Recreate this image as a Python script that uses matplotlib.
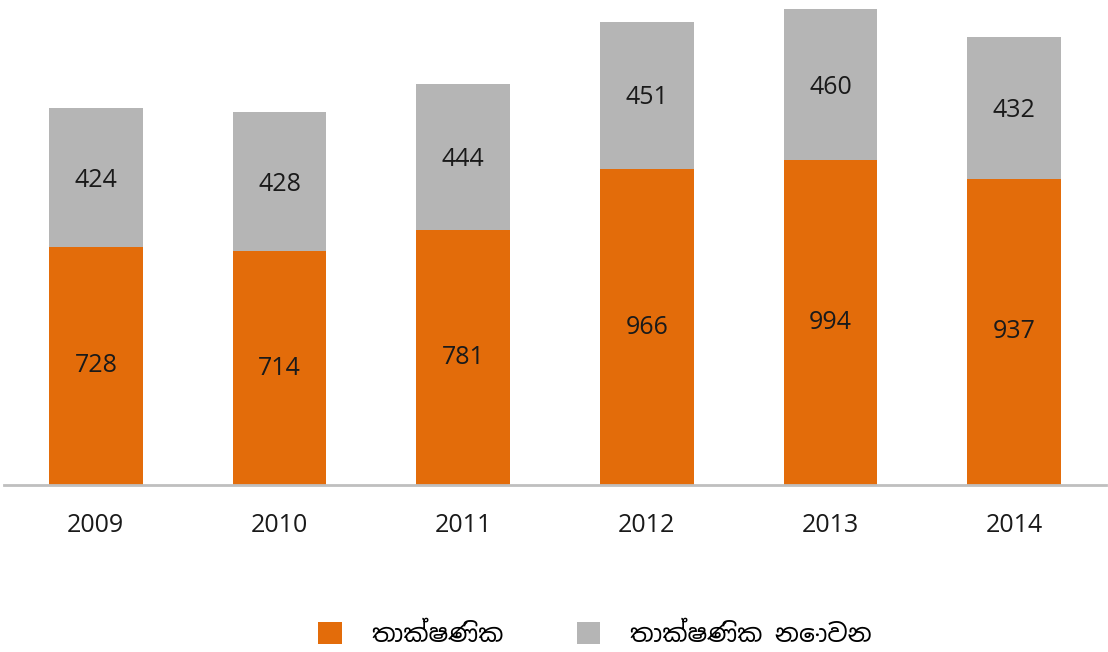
import matplotlib.pyplot as plt
import numpy as np

years = ["2009", "2010", "2011", "2012", "2013", "2014"]
technical = [728, 714, 781, 966, 994, 937]
non_technical = [424, 428, 444, 451, 460, 432]
labels = ["තාක්ෂණික", "තාක්ෂණික නොවන"]

orange = "#e36c0a"
gray = "#b5b5b5"

plt.rcParams['font.family'] = ['Noto Sans Sinhala', 'Open Sans', 'DejaVu Sans']
num_font = ['Open Sans', 'DejaVu Sans']

fig = plt.figure(figsize=(11.08, 6.52), dpi=100)
ax = fig.add_axes([4 / 1108, 1 - 485 / 652, 1102 / 1108, 485 / 652])

x = np.arange(len(years))
b1 = ax.bar(x, technical, width=0.51, color=orange, label=labels[0])
b2 = ax.bar(x, non_technical, width=0.51, bottom=technical, color=gray, label=labels[1])

# value labels in the middle of each segment
for i in range(len(years)):
    ax.text(x[i], technical[i] / 2, str(technical[i]), ha='center', va='center',
            fontsize=18, color='#1a1a1a', family=num_font)
    ax.text(x[i], technical[i] + non_technical[i] / 2 - 8, str(non_technical[i]),
            ha='center', va='center', fontsize=18, color='#1a1a1a', family=num_font)

ax.set_xlim(-0.5, 5.5)
ax.set_ylim(0, 1483)
ax.set_yticks([])
ax.set_xticks(x)
ax.set_xticklabels(years, fontsize=18, color='#1a1a1a', family=num_font)
ax.tick_params(axis='x', length=0, pad=20)
for s in ['top', 'right', 'left']:
    ax.spines[s].set_visible(False)
ax.spines['bottom'].set_color('#bfbfbf')
ax.spines['bottom'].set_linewidth(2)

fig.legend(handles=[b1, b2], labels=labels, loc='center', bbox_to_anchor=(0.537, 0.026),
           ncol=2, frameon=False, fontsize=18, handlelength=0.95, handleheight=0.95,
           columnspacing=2.9, handletextpad=1.2)

fig.savefig("out.png", dpi=100)
